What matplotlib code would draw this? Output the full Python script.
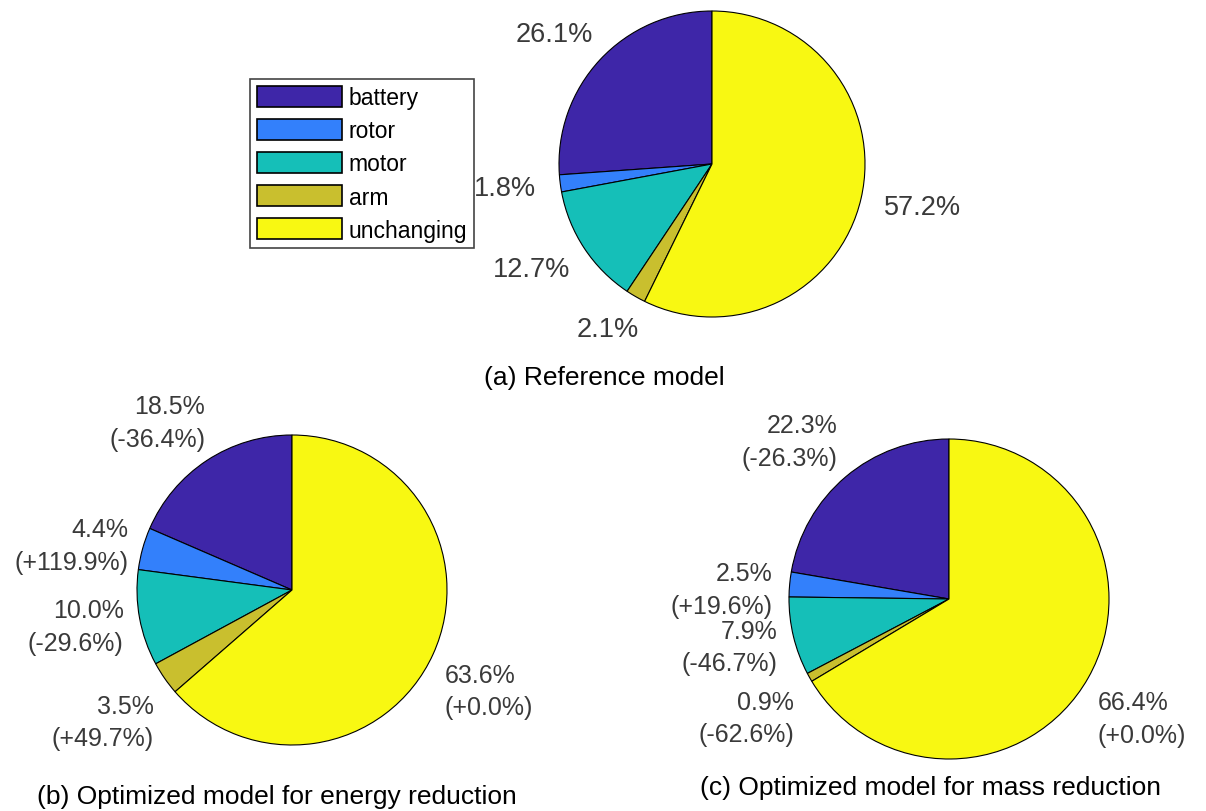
import numpy as np
import matplotlib
matplotlib.use("Agg")
from matplotlib import pyplot as plt

plt.rcParams['font.family'] = ['Liberation Sans', 'DejaVu Sans']

parts = ["battery", "rotor", "motor", "arm", "unchanging"]
colors = ["#3e26a8", "#3380fb", "#15bfb8", "#c9bf2e", "#f8f812"]

share_ref = [26.1, 1.8, 12.7, 2.1, 57.2]
share_energy = [18.5, 4.4, 10.0, 3.5, 63.6]
change_energy = [-36.4, 119.9, -29.6, 49.7, 0.0]
share_mass = [22.3, 2.5, 7.9, 0.9, 66.4]
change_mass = [-26.3, 19.6, -46.7, -62.6, 0.0]

W, H = 1206, 812
fig = plt.figure(figsize=(W / 100, H / 100), dpi=100)
label_color = "#3a3a3a"
BOX = 2.6


def pie_axes(cx, cy, r):
    # axes placed in pixel units so that 1 data unit == r pixels
    s = BOX * r
    ax = fig.add_axes([(cx - s) / W, 1 - (cy + s) / H, 2 * s / W, 2 * s / H])
    return ax


def draw_pie(ax, values, labels, k, fsize):
    wedges, _ = ax.pie(values, colors=colors, startangle=90, radius=1,
                       wedgeprops=dict(edgecolor="black", linewidth=0.8))
    ax.set_xlim(-BOX, BOX)
    ax.set_ylim(-BOX, BOX)
    ax.axis('off')
    texts = []
    for w, lab in zip(wedges, labels):
        ang = np.deg2rad((w.theta1 + w.theta2) / 2)
        c, s = np.cos(ang), np.sin(ang)
        t = ax.text(k * c, k * s, lab, ha="center", va="center",
                    fontsize=fsize, color=label_color, linespacing=1.45,
                    multialignment="right" if c < 0 else "left")
        texts.append((t, c, s))
    return texts


def shift_labels(texts, r, two_line=False):
    # push each label outward by half its size, like MATLAB does
    rend = fig.canvas.get_renderer()
    for t, c, s in texts:
        bb = t.get_window_extent(rend)
        x, y = t.get_position()
        dx = c * bb.width / 2
        dy = s * bb.height / 2
        if two_line:
            if s < -0.3:
                dy -= 18
                if c < 0:
                    dx -= 6
            elif 0 < s < 0.3:
                dy -= 9
            elif s > 0.7:
                dx -= 14
        t.set_position((x + dx / r, y + dy / r))


ax_a = pie_axes(712, 165, 153)
ax_b = pie_axes(292, 591, 155)
ax_c = pie_axes(949, 600, 160)

lab_a = ["%.1f%%" % v for v in share_ref]
lab_b = ["%.1f%%\n(%+.1f%%)" % (v, d) for v, d in zip(share_energy, change_energy)]
lab_c = ["%.1f%%\n(%+.1f%%)" % (v, d) for v, d in zip(share_mass, change_mass)]

t_a = draw_pie(ax_a, share_ref, lab_a, 1.16, 19.5)
t_b = draw_pie(ax_b, share_energy, lab_b, 1.11, 18)
t_c = draw_pie(ax_c, share_mass, lab_c, 1.11, 18)

fig.canvas.draw()
shift_labels(t_a, 153)
shift_labels(t_b, 155, two_line=True)
shift_labels(t_c, 160, two_line=True)

handles = [plt.Rectangle((0, 0), 1, 1, facecolor=col, edgecolor="black", linewidth=1.2)
           for col in colors]
leg = fig.legend(handles, parts, loc="upper left", bbox_to_anchor=(250 / W, 1 - 80 / H),
                 fontsize=16.5, handlelength=3.7, handleheight=1.05, handletextpad=0.3,
                 labelspacing=0.42, borderpad=0.3, borderaxespad=0, fancybox=False,
                 framealpha=1, edgecolor="#444444")
leg.get_frame().set_linewidth(1.2)

fig.text(604 / W, 1 - 378 / H, "(a) Reference model", ha="center", va="center", fontsize=19)
fig.text(277 / W, 1 - 797 / H, "(b) Optimized model for energy reduction",
         ha="center", va="center", fontsize=19)
fig.text(931 / W, 1 - 788 / H, "(c) Optimized model for mass reduction",
         ha="center", va="center", fontsize=19)

fig.savefig("out.png", dpi=100)
